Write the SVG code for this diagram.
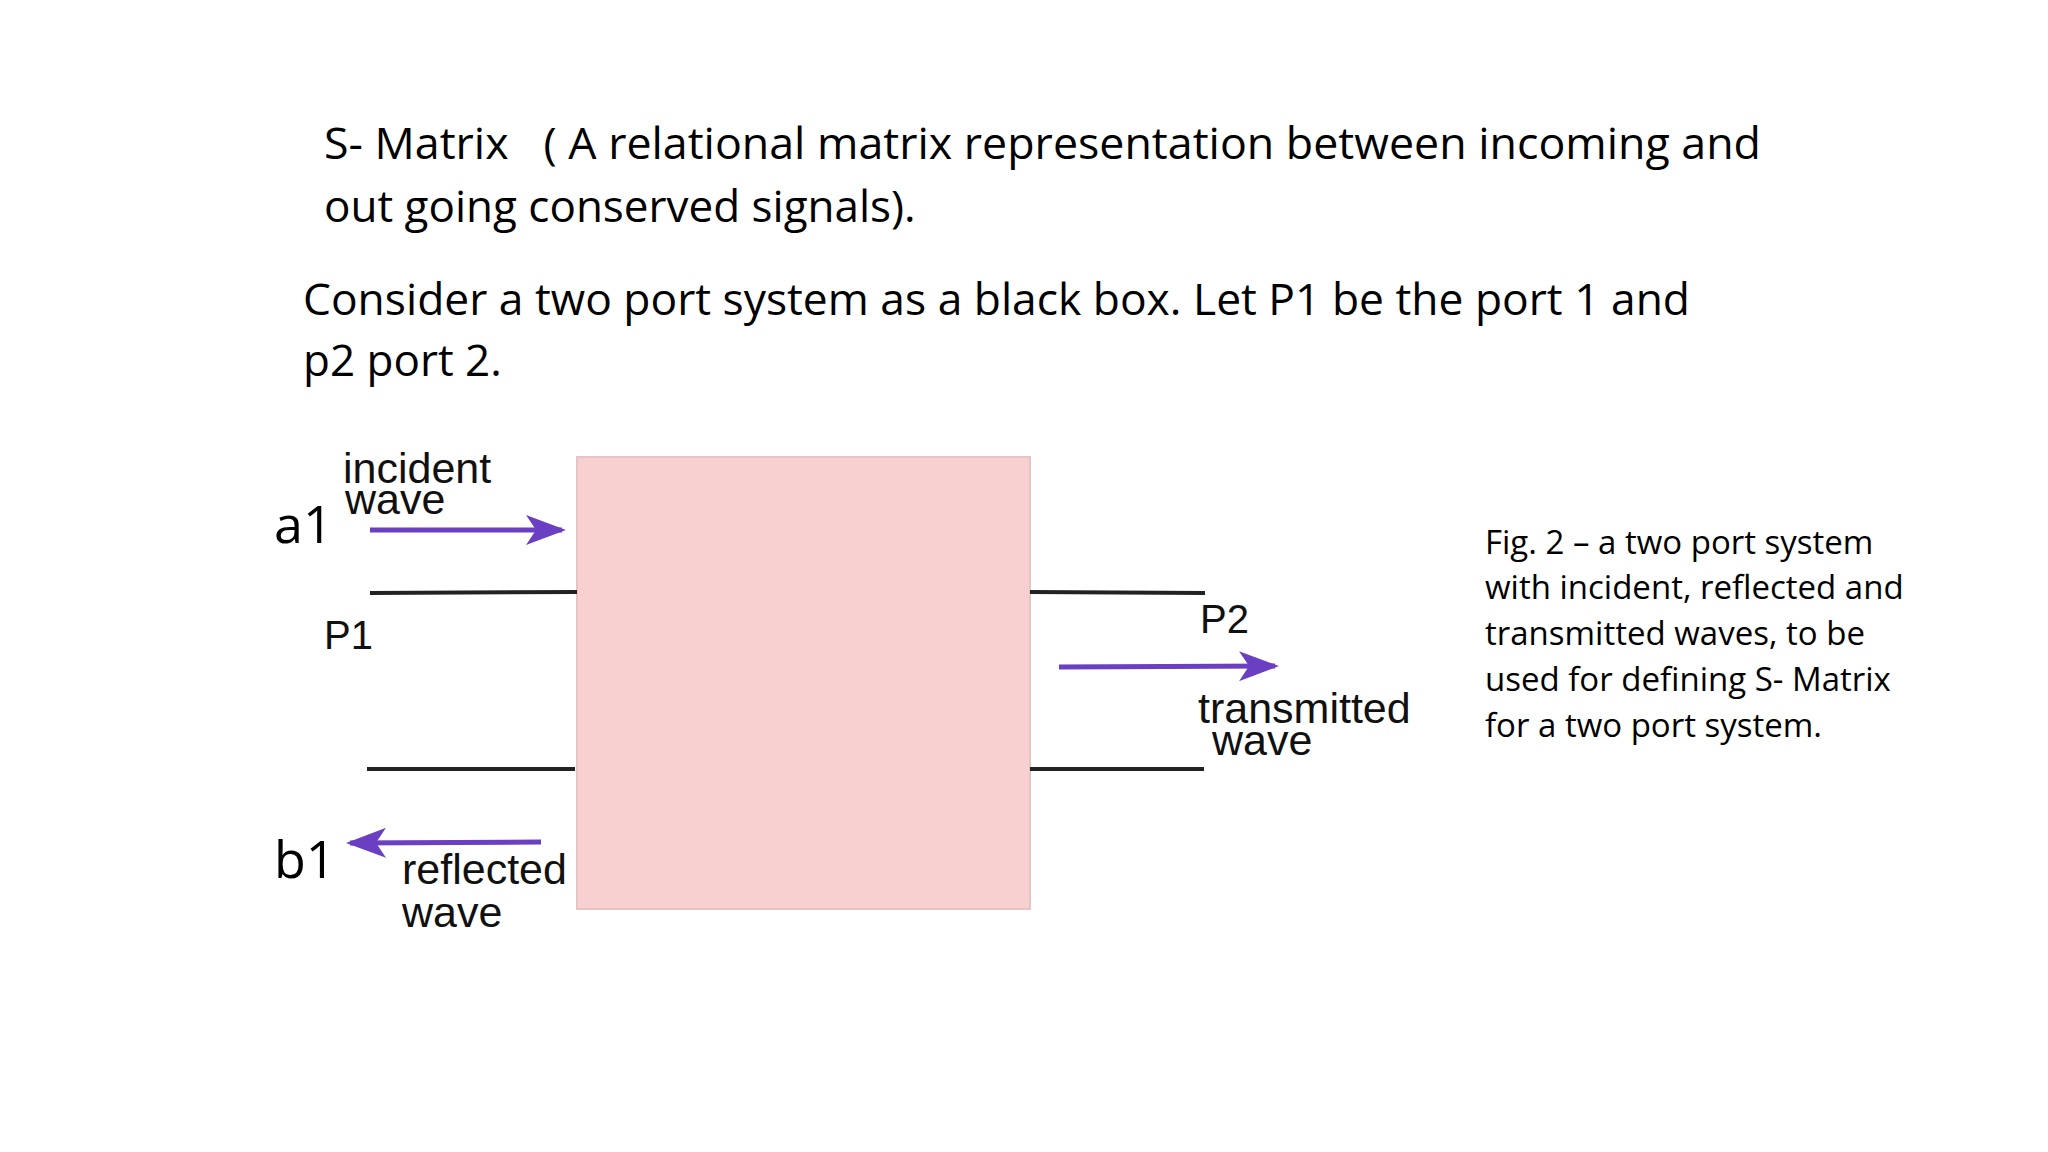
<svg xmlns="http://www.w3.org/2000/svg" width="2048" height="1152" viewBox="0 0 2048 1152">
<defs>
<marker id="ahb" markerWidth="40" markerHeight="30" refX="36" refY="15" orient="auto" markerUnits="userSpaceOnUse">
<path d="M0,0 L40,15 L0,30 L10,15 Z" fill="#6a3fc1"/>
</marker>
</defs>
<style>
.t{font-family:"Open Sans","Noto Sans",sans-serif;fill:#000}
.a{font-family:"Liberation Sans",Arial,sans-serif;fill:#111}
.ln{stroke:#222;stroke-width:4;fill:none}
.ar{stroke:#6a3fc1;stroke-width:5;fill:none;marker-end:url(#ahb)}
</style>
<rect width="2048" height="1152" fill="#fff"/>
<g id="title">
<text class="t" x="324" y="159" font-size="44" xml:space="preserve" textLength="1437" lengthAdjust="spacingAndGlyphs">S- Matrix   ( A relational matrix representation between incoming and</text>
<text class="t" x="324" y="222" font-size="44">out going conserved signals).</text>
<text class="t" x="303" y="315" font-size="44" textLength="1387" lengthAdjust="spacingAndGlyphs">Consider a two port system as a black box. Let P1 be the port 1 and</text>
<text class="t" x="303" y="376" font-size="44">p2 port 2.</text>
</g>
<g id="box"><rect x="577" y="457" width="453" height="452" fill="#f8d0d0" stroke="#e4c4c4" stroke-width="2"/></g>
<g id="connectors">
<line class="ln" x1="370" y1="593" x2="577" y2="592"/>
<line class="ln" x1="367" y1="769" x2="575" y2="769"/>
<line class="ln" x1="1030" y1="592" x2="1205" y2="593"/>
<line class="ln" x1="1030" y1="769" x2="1204" y2="769"/>
<line class="ar" x1="370" y1="530" x2="562" y2="530"/>
<line class="ar" x1="1059" y1="667" x2="1275" y2="666"/>
<line class="ar" x1="541" y1="842" x2="350" y2="843"/>
</g>
<g id="labels">
<text class="a" x="343" y="483" font-size="43">incident</text>
<text class="a" x="345" y="514" font-size="43">wave</text>
<text class="t" x="274" y="543" font-size="52">a1</text>
<text class="a" x="324" y="649" font-size="40">P1</text>
<text class="a" x="1200" y="633" font-size="40">P2</text>
<text class="a" x="1198" y="723" font-size="43">transmitted</text>
<text class="a" x="1212" y="755" font-size="43">wave</text>
<text class="t" x="274" y="878" font-size="52">b1</text>
<text class="a" x="402" y="884" font-size="43">reflected</text>
<text class="a" x="402" y="927" font-size="43">wave</text>
</g>
<g id="caption" class="t" font-size="33">
<text x="1485" y="554">Fig. 2 – a two port system</text>
<text x="1485" y="599">with incident, reflected and</text>
<text x="1485" y="645">transmitted waves, to be</text>
<text x="1485" y="691">used for defining S- Matrix</text>
<text x="1485" y="737">for a two port system.</text>
</g>
</svg>
